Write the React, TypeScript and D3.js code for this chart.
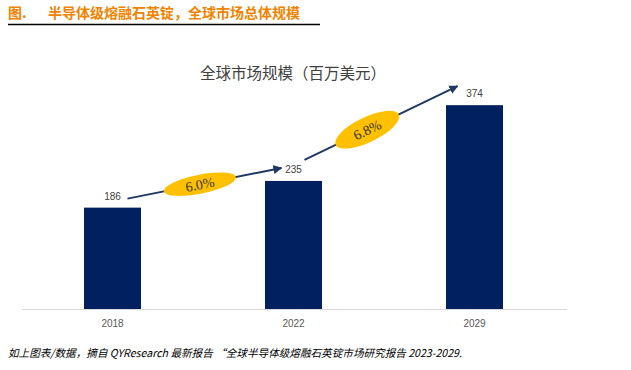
import React from "react";
import * as d3 from "d3";

const categories = ["2018", "2022", "2029"];
const values = [186, 235, 374];
const growthLabels = ["6.0%", "6.8%"];
const headerPrefix = "图.";
const headerTitle = "半导体级熔融石英锭，全球市场总体规模";
const chartTitle = "全球市场规模（百万美元）";
const footerText = "如上图表/数据，摘自 QYResearch 最新报告 “全球半导体级熔融石英锭市场研究报告 2023-2029.";

const W = 631;
const H = 370;
const baseY = 309;

export default function App() {
  const x = d3.scaleBand<string>().domain(categories).range([22, 565]).paddingInner(0.685).paddingOuter(0.3425);
  const y = d3.scaleLinear().domain([0, 400]).range([baseY, 91]);
  const bw = x.bandwidth();

  // arrow annotations derived from bars
  const arrowDefs = [
    { from: 0, to: 1, sx: 15, sy: 1, ex: -12, ey: -3, t: 0.47, a: 36.7, b: 9.5 },
    { from: 1, to: 2, sx: 11, sy: -11, ex: -17, ey: -9, t: 0.41, a: 35, b: 12.5 },
  ];
  const arrows = arrowDefs.map((d, i) => {
    const x1 = (x(categories[d.from]) as number) + bw / 2 + d.sx;
    const y1 = y(values[d.from]) - 10 + d.sy;
    const x2 = (x(categories[d.to]) as number) + bw / 2 + d.ex;
    const y2 = y(values[d.to]) - 10 + d.ey;
    const ang = (Math.atan2(y2 - y1, x2 - x1) * 180) / Math.PI;
    const cx = x1 + (x2 - x1) * d.t;
    const cy = y1 + (y2 - y1) * d.t;
    return { x1, y1, x2, y2, ang, cx, cy, a: d.a, b: d.b, label: growthLabels[i] };
  });

  return (
    <svg width={W} height={H} style={{ position: "absolute", left: 0, top: 0, background: "#fff" }}>
      <defs>
        <marker id="ah" viewBox="0 0 10 10" refX="9" refY="5" markerWidth="4.5" markerHeight="4.5" orient="auto">
          <path d="M0,0 L10,5 L0,10 z" fill="#1F3864" />
        </marker>
      </defs>
      <text x={8} y={18} fontFamily="'Noto Sans CJK SC'" fontWeight="bold" fontSize={14} fill="#F08300">
        {headerPrefix}
      </text>
      <text x={48} y={18} fontFamily="'Noto Sans CJK SC'" fontWeight="bold" fontSize={14} fill="#F08300">
        {headerTitle}
      </text>
      <line x1={8} x2={320} y1={24.5} y2={24.5} stroke="#000" strokeWidth={1.5} />

      <text x={293} y={79} textAnchor="middle" fontFamily="'Noto Sans CJK SC'" fontSize={15.5} fill="#404040">
        {chartTitle}
      </text>

      <line x1={22} x2={567} y1={baseY + 0.5} y2={baseY + 0.5} stroke="#D9D9D9" strokeWidth={1} />

      {categories.map((c, i) => (
        <g key={c}>
          <rect x={x(c)} y={y(values[i])} width={bw} height={baseY - y(values[i])} fill="#002060" />
          <text x={(x(c) as number) + bw / 2} y={y(values[i]) - 8} textAnchor="middle" fontFamily="'Liberation Sans', Arial" fontSize={10} fill="#404040">
            {values[i]}
          </text>
          <text x={(x(c) as number) + bw / 2} y={327} textAnchor="middle" fontFamily="'Liberation Sans', Arial" fontSize={10} fill="#595959">
            {c}
          </text>
        </g>
      ))}

      {arrows.map((a, i) => (
        <g key={i}>
          <line x1={a.x1} y1={a.y1} x2={a.x2} y2={a.y2} stroke="#1F3864" strokeWidth={2} markerEnd="url(#ah)" />
          <g transform={`translate(${a.cx},${a.cy}) rotate(${a.ang})`}>
            <ellipse rx={a.a} ry={a.b} fill="#FFC000" />
            <text y={5} textAnchor="middle" fontFamily="'Liberation Serif', 'DejaVu Serif', serif" fontSize={14} fill="#333">
              {a.label}
            </text>
          </g>
        </g>
      ))}

      <text x={8} y={357} fontFamily="'Noto Sans CJK SC'" fontStyle="italic" fontSize={10.6} fill="#000">
        {footerText}
      </text>
    </svg>
  );
}
